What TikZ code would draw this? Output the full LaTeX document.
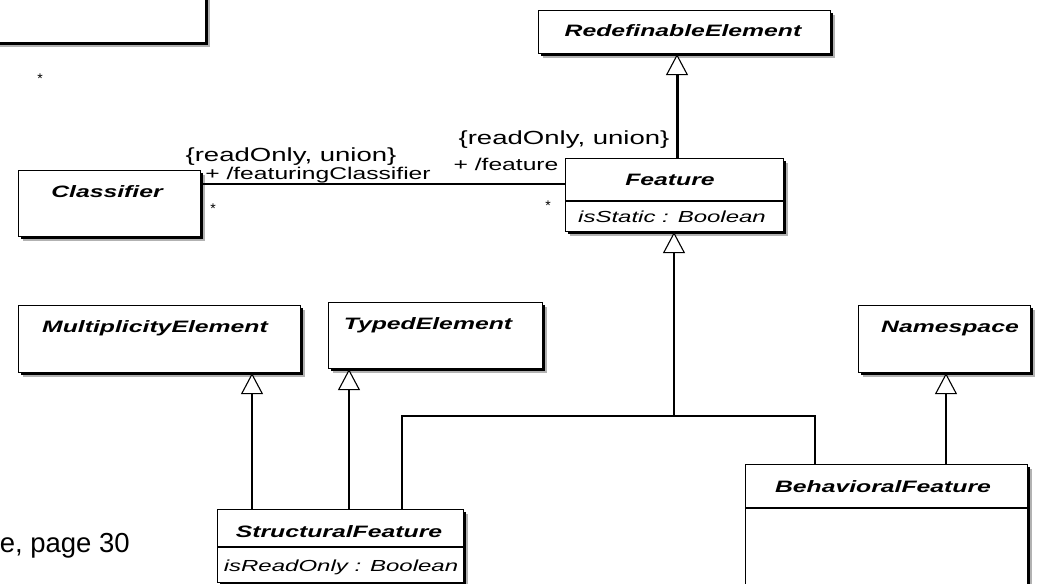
\documentclass[tikz,border=0pt]{standalone}
\usepackage{fontspec}
\setmainfont{Liberation Sans}
\newfontfamily\umltitlefont[FakeStretch=1.5]{Liberation Sans}
\newfontfamily\umltextfont[FakeStretch=1.45]{Liberation Sans}
\usetikzlibrary{arrows.meta,calc}
\tikzset{
  clsbox/.style={draw=black, fill=white, line width=1.1pt, rectangle, inner sep=0pt, anchor=north west,
    preaction={fill=black!30, transform canvas={xshift=4pt,yshift=-4pt}},
    preaction={fill=black, transform canvas={xshift=2pt,yshift=-2pt}}},
  clstitle/.style={inner sep=0pt, font=\umltitlefont\bfseries\itshape\fontsize{16.5}{18}\selectfont},
  clsattr/.style={inner sep=0pt, font=\umltitlefont\itshape\fontsize{16}{18}\selectfont},
  lbl/.style={inner sep=0pt, font=\umltextfont\fontsize{19}{21}\selectfont},
  role/.style={inner sep=0pt, font=\umltextfont\fontsize{17}{19}\selectfont},
  star/.style={inner sep=0pt, font=\fontsize{14}{16}\selectfont},
  gentip/.style={-{Triangle[open, length=21pt, width=22pt, line width=1.1pt, fill=white]}},
  gen/.style={line width=1.1pt, gentip},
  genthick/.style={line width=3pt, gentip},
  assoc/.style={line width=1.1pt}
}
\begin{document}
\begin{tikzpicture}[x=1pt,y=-1pt]
\useasboundingbox (0,0) rectangle (1037,584);
\clip (0,0) rectangle (1037,584);

% partial box at top left
\node[clsbox, minimum width=215pt, minimum height=52pt] (topbox) at (-10,-10) {};
\node[star] (topstar) at (40,79) {*};

% RedefinableElement
\node[clsbox, minimum width=292pt, minimum height=43pt] (redef) at (538,10) {};
\node[clstitle] (redeft) at (683,31) {RedefinableElement};

% Feature
\node[clsbox, minimum width=218pt, minimum height=73pt] (feature) at (565,158) {};
\draw[line width=1.1pt] (565,201) coordinate (fdl) -- (783,201) coordinate (fdr);
\node[clstitle] (featuret) at (670,180) {Feature};
\node[clsattr] (featurea) at (672,217) {isStatic : Boolean};

% Classifier
\node[clsbox, minimum width=182pt, minimum height=66pt] (classifier) at (18,170) {};
\node[clstitle] (classifiert) at (107,192) {Classifier};

% MultiplicityElement
\node[clsbox, minimum width=282pt, minimum height=67pt] (multi) at (18,305) {};
\node[clstitle] (multit) at (155,328) {MultiplicityElement};

% TypedElement
\node[clsbox, minimum width=214pt, minimum height=66pt] (typed) at (328,302) {};
\node[clstitle] (typedt) at (428,325) {TypedElement};

% Namespace
\node[clsbox, minimum width=172pt, minimum height=67pt] (namespace) at (858,305) {};
\node[clstitle] (namespacet) at (950,329) {Namespace};

% StructuralFeature
\node[clsbox, minimum width=246pt, minimum height=73pt] (structural) at (217,509) {};
\draw[line width=1.1pt] (217,547) coordinate (sdl) -- (463,547) coordinate (sdr);
\node[clstitle] (structuralt) at (339,532) {StructuralFeature};
\node[clsattr] (structurala) at (341,567) {isReadOnly : Boolean};

% BehavioralFeature
\node[clsbox, minimum width=282pt, minimum height=140pt] (behavioral) at (745,464) {};
\draw[line width=1.1pt] (745,508) coordinate (bdl) -- (1027,508) coordinate (bdr);
\node[clstitle] (behavioralt) at (883,487) {BehavioralFeature};

% association Classifier -- Feature
\coordinate (ca) at (200,184);
\coordinate (fa) at (565,184);
\draw[assoc] (ca) -- (fa);
\node[lbl] (ro1) at (291,157) {\{readOnly, union\}};
\node[role] (fc) at (318,175) {+ /featuringClassifier};
\node[star] (cstar) at (213,209) {*};
\node[lbl] (ro2) at (564,140) {\{readOnly, union\}};
\node[role] (fe) at (506,164) {+ /feature};
\node[star] (fstar) at (548,206) {*};

% Feature -> RedefinableElement
\coordinate (fr) at (677,158);
\draw[genthick] (fr) -- (fr |- redef.south);

% Structural/Behavioral -> Feature
\coordinate (j) at (674,416);
\coordinate (sj) at (402,509);
\coordinate (bj) at (815,464);
\draw[assoc] (sj) |- (j) -| (bj);
\draw[gen] (j) -- (j |- feature.south);

% Structural -> Multiplicity, Typed
\coordinate (sm) at (252,509);
\draw[gen] (sm) -- (sm |- multi.south);
\coordinate (st) at (349,509);
\draw[gen] (st) -- (st |- typed.south);

% Behavioral -> Namespace
\coordinate (bn) at (946,464);
\draw[gen] (bn) -- (bn |- namespace.south);

% caption fragment
\node[inner sep=0pt, anchor=base east, font=\fontsize{27.5}{30}\selectfont] (cap) at (130,552) {e, page 30};
\end{tikzpicture}
\end{document}
